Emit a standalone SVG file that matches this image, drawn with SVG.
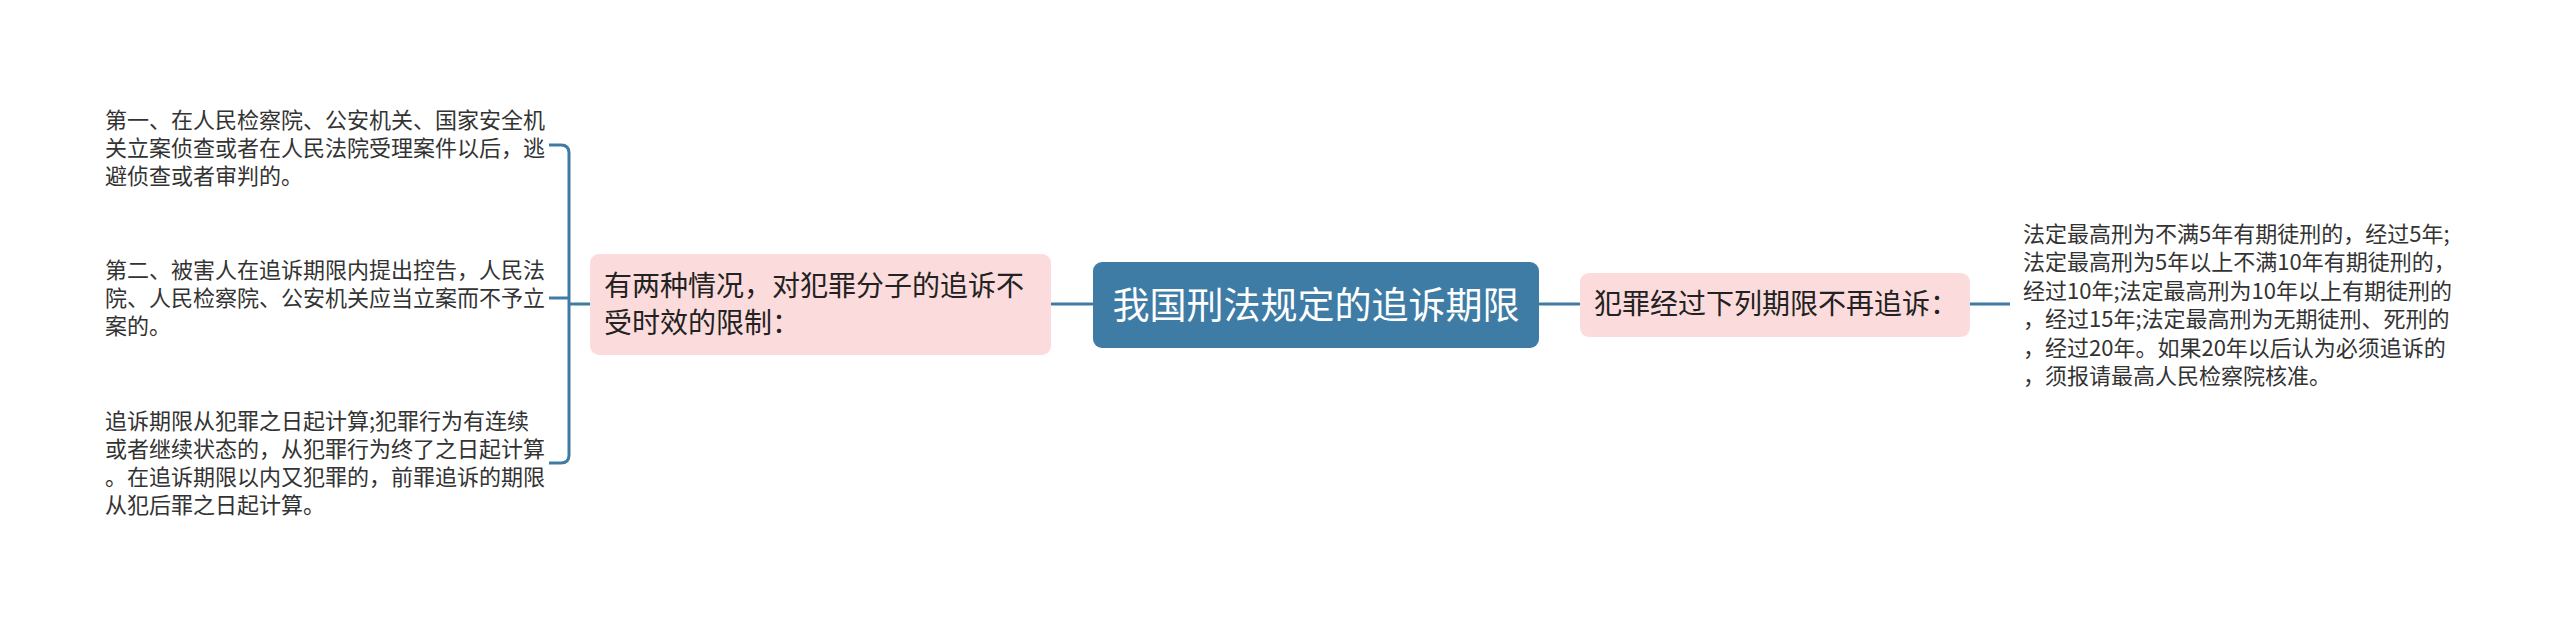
<svg xmlns="http://www.w3.org/2000/svg" width="2560" height="624" viewBox="0 0 2560 624">
<style>
text{font-family:"Noto Sans CJK SC","Noto Sans",sans-serif;}
.leaf{font-size:22px;fill:#333333;}
.sub{font-size:28px;fill:#222222;}
.root{font-size:37px;fill:#ffffff;}
.pink{fill:#fbdbdb;}
.blue{fill:#3e7ca5;}
.conn{fill:none;stroke:#3e7ca5;stroke-width:3;}
</style>
<rect width="2560" height="624" fill="#ffffff"/>
<g id="connectors">
<path class="conn" d="M549,145 H561 Q569,145 569,153 V455 Q569,463 561,463 H549"/>
<path class="conn" d="M549,298 H569"/>
<path class="conn" d="M569,304 H590"/>
<path class="conn" d="M1051,304 H1093"/>
<path class="conn" d="M1539,304 H1580"/>
<path class="conn" d="M1970,304 H2010"/>
</g>
<g id="root">
<rect class="blue" x="1093" y="262" width="446" height="86" rx="9"/>
<text class="root" x="1316" y="319" text-anchor="middle">我国刑法规定的追诉期限</text>
</g>
<g id="left-branch">
<rect class="pink" x="590" y="254" width="461" height="101" rx="9"/>
<text class="sub" x="604" y="296">有两种情况，对犯罪分子的追诉不</text>
<text class="sub" x="604" y="333">受时效的限制：</text>
</g>
<g id="right-branch">
<rect class="pink" x="1580" y="273" width="390" height="64" rx="9"/>
<text class="sub" x="1594" y="314">犯罪经过下列期限不再追诉：</text>
</g>
<g id="leaf-1">
<text class="leaf" x="105" y="128">第一、在人民检察院、公安机关、国家安全机</text>
<text class="leaf" x="105" y="156">关立案侦查或者在人民法院受理案件以后，逃</text>
<text class="leaf" x="105" y="184">避侦查或者审判的。</text>
</g>
<g id="leaf-2">
<text class="leaf" x="105" y="278">第二、被害人在追诉期限内提出控告，人民法</text>
<text class="leaf" x="105" y="306">院、人民检察院、公安机关应当立案而不予立</text>
<text class="leaf" x="105" y="334">案的。</text>
</g>
<g id="leaf-3">
<text class="leaf" x="105" y="429">追诉期限从犯罪之日起计算;犯罪行为有连续</text>
<text class="leaf" x="105" y="457">或者继续状态的，从犯罪行为终了之日起计算</text>
<text class="leaf" x="105" y="485">。在追诉期限以内又犯罪的，前罪追诉的期限</text>
<text class="leaf" x="105" y="513">从犯后罪之日起计算。</text>
</g>
<g id="leaf-right">
<text class="leaf" x="2023" y="241.5">法定最高刑为不满5年有期徒刑的，经过5年;</text>
<text class="leaf" x="2023" y="270">法定最高刑为5年以上不满10年有期徒刑的，</text>
<text class="leaf" x="2023" y="298.5">经过10年;法定最高刑为10年以上有期徒刑的</text>
<text class="leaf" x="2023" y="327">，经过15年;法定最高刑为无期徒刑、死刑的</text>
<text class="leaf" x="2023" y="355.5">，经过20年。如果20年以后认为必须追诉的</text>
<text class="leaf" x="2023" y="384">，须报请最高人民检察院核准。</text>
</g>
</svg>
